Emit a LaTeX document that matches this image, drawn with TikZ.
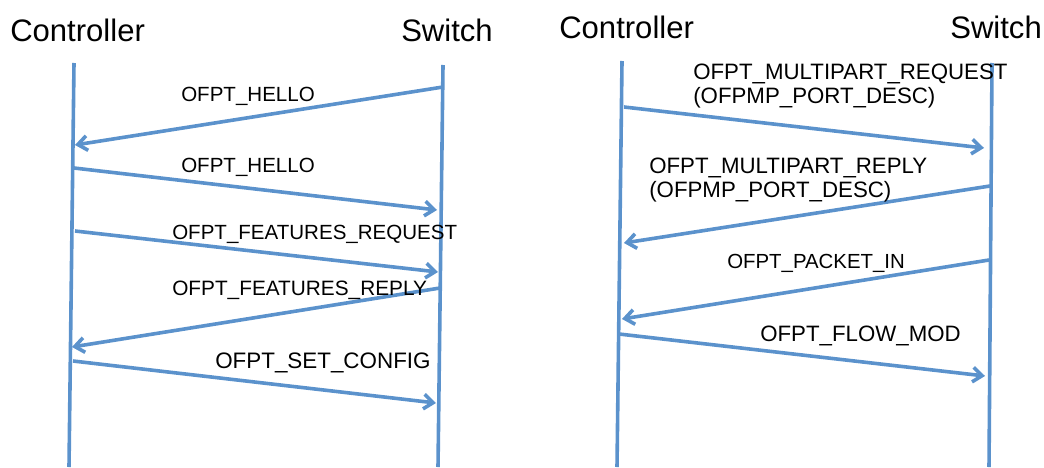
\documentclass[tikz,border=0pt]{standalone}
\usepackage{fontspec}
\setmainfont{Liberation Sans}
\usetikzlibrary{arrows.meta}
\definecolor{lifeblue}{RGB}{91,146,204}
\begin{document}
\begin{tikzpicture}[x=0.75pt,y=-0.75pt,
  lifeline/.style={draw=lifeblue, line width=2.7pt},
  msg/.style={draw=lifeblue, line width=2.7pt, -{Straight Barb[length=7pt,width=11pt]}},
  actor/.style={font=\fontsize{23.3}{28}\selectfont, anchor=base west, inner sep=0},
  msglabel/.style={font=\fontsize{#1}{17.3}\selectfont, anchor=base west, inner sep=0, align=left},
  msglabel/.default=15.4]
\useasboundingbox (0,0) rectangle (1044,467);

% ---------- left panel: connection setup ----------
\node[actor] (ctlA) at (10,42) {Controller};
\node[actor] (swA) at (401,42) {Switch};
\coordinate (ctlAtop) at (74,63);
\coordinate (ctlAbot) at (69,467);
\coordinate (swAtop) at (443,65);
\coordinate (swAbot) at (438,467);
\draw[lifeline] (ctlAtop) -- (ctlAbot);
\draw[lifeline] (swAtop) -- (swAbot);

\coordinate (a1s) at (443,87);  \coordinate (a1e) at (75,145);
\coordinate (a2s) at (74,168);  \coordinate (a2e) at (437,210);
\coordinate (a3s) at (75,231);  \coordinate (a3e) at (438,272);
\coordinate (a4s) at (440,288); \coordinate (a4e) at (72,347);
\coordinate (a5s) at (73,361);  \coordinate (a5e) at (436,403);
\draw[msg] (a1s) -- (a1e);
\draw[msg] (a2s) -- (a2e);
\draw[msg] (a3s) -- (a3e);
\draw[msg] (a4s) -- (a4e);
\draw[msg] (a5s) -- (a5e);

\node[msglabel] (l1) at (181,101) {OFPT\_HELLO};
\node[msglabel] (l2) at (181,172) {OFPT\_HELLO};
\node[msglabel] (l3) at (172,239) {OFPT\_FEATURES\_REQUEST};
\node[msglabel=15.6] (l4) at (172,295) {OFPT\_FEATURES\_REPLY};
\node[msglabel=16.8] (l5) at (215,368) {OFPT\_SET\_CONFIG};

% ---------- right panel: port discovery and flow setup ----------
\node[actor] (ctlB) at (559,39) {Controller};
\node[actor] (swB) at (950,39) {Switch};
\coordinate (ctlBtop) at (622,61);
\coordinate (ctlBbot) at (617,467);
\coordinate (swBtop) at (992,63);
\coordinate (swBbot) at (989,467);
\draw[lifeline] (ctlBtop) -- (ctlBbot);
\draw[lifeline] (swBtop) -- (swBbot);

\coordinate (b1s) at (624,107); \coordinate (b1e) at (984,148);
\coordinate (b2s) at (990,186); \coordinate (b2e) at (624,243);
\coordinate (b3s) at (989,260); \coordinate (b3e) at (622,319);
\coordinate (b4s) at (619,334); \coordinate (b4e) at (985,376);
\draw[msg] (b1s) -- (b1e);
\draw[msg] (b2s) -- (b2e);
\draw[msg] (b3s) -- (b3e);
\draw[msg] (b4s) -- (b4e);

% two-line labels: the base anchor sits on the last line
\node[msglabel=16.7] (m1) at (693,103) {OFPT\_MULTIPART\_REQUEST\\(OFPMP\_PORT\_DESC)};
\node[msglabel=16.7] (m2) at (649,197) {OFPT\_MULTIPART\_REPLY\\(OFPMP\_PORT\_DESC)};
\node[msglabel=15.3] (m3) at (727,268) {OFPT\_PACKET\_IN};
\node[msglabel=16.7] (m4) at (760,341) {OFPT\_FLOW\_MOD};
\end{tikzpicture}
\end{document}
